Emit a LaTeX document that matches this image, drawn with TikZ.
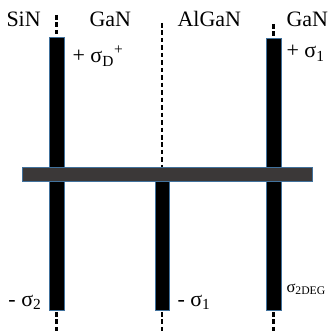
\documentclass[tikz,border=0pt]{standalone}
\usepackage{fontspec}
\setmainfont{Liberation Serif}

\tikzset{every picture/.style={line width=0.75pt}}
\tikzset{
  chargebar/.style={draw={rgb, 255:red, 65; green, 113; blue, 156 }, fill=black, line width=0.75pt},
  heterobar/.style={draw={rgb, 255:red, 65; green, 113; blue, 156 }, fill={rgb, 255:red, 59; green, 56; blue, 56 }, line width=0.75pt},
  iface/.style={line width=1.9pt, dash pattern=on 3.4pt off 2.2pt},
  layerlbl/.style={font=\fontsize{16.5}{19}\selectfont, inner sep=0pt, anchor=base west},
  chargelbl/.style={font=\fontsize{16.5}{19}\selectfont, inner sep=0pt, anchor=base west}
}

\begin{document}
\begin{tikzpicture}[x=0.75pt,y=0.75pt,yscale=-1,xscale=1]
\useasboundingbox (0,0) rectangle (328,331);

%Shape: Rectangle [id:sin_gan_bar]
\draw [chargebar] (49,38) -- (64,38) -- (64,310) -- (49,310) -- cycle ;
%Shape: Rectangle [id:algan_bar]
\draw [chargebar] (155,181) -- (169,181) -- (169,310) -- (155,310) -- cycle ;
%Shape: Rectangle [id:gan_bar]
\draw [chargebar] (266,39) -- (281,39) -- (281,310) -- (266,310) -- cycle ;

%Straight Lines [id:iface_left]
\draw [iface] (56.5,15) -- (56.5,37) ;
\draw [iface] (56.5,312) -- (56.5,331) ;
%Straight Lines [id:iface_mid]
\draw [iface] (162,23) -- (162,168) ;
\draw [iface] (162,312) -- (162,331) ;
%Straight Lines [id:iface_right]
\draw [iface] (273.5,24) -- (273.5,37) ;
\draw [iface] (273.5,312) -- (273.5,331) ;

%Shape: Rectangle [id:channel_bar]
\draw [heterobar] (22,168) -- (312,168) -- (312,181) -- (22,181) -- cycle ;

% Text Node
\node [layerlbl] (sin) at (6,27) {SiN};
% Text Node
\node [layerlbl] (gan1) at (89,27) {GaN};
% Text Node
\node [layerlbl] (algan) at (177,27) {AlGaN};
% Text Node
\node [layerlbl] (gan2) at (286,27) {GaN};
% Text Node
\node [chargelbl] (sigd) at (72,63) {+ σ\textsubscript{D}\textsuperscript{+}};
% Text Node
\node [chargelbl] (sigone) at (286,58) {+ σ\textsubscript{1}};
% Text Node
\node [chargelbl] (sigtwo) at (8,306) {- σ\textsubscript{2}};
% Text Node
\node [chargelbl] (sigonem) at (177,306) {- σ\textsubscript{1}};
% Text Node
\node [chargelbl, font=\fontsize{12.5}{15}\selectfont] (sigdeg) at (286,292) {σ\textsubscript{2DEG}};

\end{tikzpicture}
\end{document}
